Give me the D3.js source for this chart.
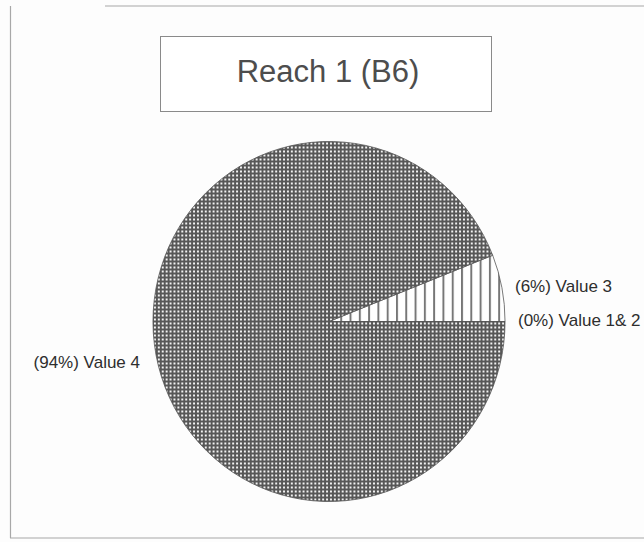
<!DOCTYPE html>
<html>
<head>
<meta charset="utf-8">
<script src="https://cdn.jsdelivr.net/npm/d3@7/dist/d3.min.js"></script>
<style>
  html, body { margin: 0; padding: 0; background: #fdfdfd; }
  svg { display: block; }
</style>
</head>
<body>
<script>
// ---- data ----
const categories = ["Value 1& 2", "Value 3", "Value 4"];
const values = [0, 6, 94];            // percent
const labels = ["(0%) Value 1& 2", "(6%) Value 3", "(94%) Value 4"];
const patterns = ["stripes", "stripes", "checker"];
const title = "Reach 1 (B6)";

// ---- layout ----
const W = 644, H = 542;
const cx = 329, cy = 321.5, R = 180, sx = 0.978;
// label anchor layout (x, baseline y, anchor)
const labelLayout = [
  { x: 518, y: 326, anchor: "start" },
  { x: 515, y: 292, anchor: "start" },
  { x: 140, y: 368, anchor: "end" }
];

const svg = d3.select("body").append("svg")
  .attr("width", W).attr("height", H);

const defs = svg.append("defs");
// dotted grid pattern (white dots on dark grey)
const chk = defs.append("pattern").attr("id", "checker")
  .attr("patternUnits", "userSpaceOnUse").attr("width", 4).attr("height", 4);
chk.append("rect").attr("width", 4).attr("height", 4).attr("fill", "#575757");
chk.append("rect").attr("x", 1).attr("y", 1).attr("width", 2).attr("height", 2).attr("fill", "#f2f2f2");
// vertical stripes
const str = defs.append("pattern").attr("id", "stripes")
  .attr("patternUnits", "userSpaceOnUse").attr("width", 9.5).attr("height", 9).attr("x", 2);
str.append("rect").attr("width", 9.5).attr("height", 9).attr("fill", "#ffffff");
str.append("rect").attr("x", 0).attr("width", 2).attr("height", 9).attr("fill", "#777");

// frame lines
const frame = svg.append("g").attr("stroke", "#a8a8a8").attr("stroke-width", 1.2).attr("fill", "none");
frame.append("line").attr("x1", 105).attr("y1", 6).attr("x2", W).attr("y2", 6);
frame.append("line").attr("x1", 10.5).attr("y1", 6).attr("x2", 10.5).attr("y2", 538);
frame.append("line").attr("x1", 10).attr("y1", 538).attr("x2", W).attr("y2", 538);

// title box
svg.append("rect").attr("x", 160.5).attr("y", 36.5).attr("width", 331).attr("height", 75)
  .attr("fill", "#ffffff").attr("stroke", "#8a8a8a").attr("stroke-width", 1);
svg.append("text").attr("x", 328).attr("y", 82)
  .attr("text-anchor", "middle")
  .attr("font-family", "Liberation Sans, Arial, sans-serif")
  .attr("font-size", 31).attr("fill", "#4d4d4d")
  .text(title);

// pie
const pie = d3.pie().sort(null).value(d => d)
  .startAngle(Math.PI / 2).endAngle(Math.PI / 2 - 2 * Math.PI);
const arcs = pie(values);
const arc = d3.arc().innerRadius(0).outerRadius(R);

const g = svg.append("g").attr("transform", `translate(${cx},${cy}) scale(${sx},1)`);
g.selectAll("path").data(arcs).join("path")
  .attr("d", arc)
  .attr("fill", (d, i) => `url(#${patterns[i]})`)
  .attr("stroke", "#555").attr("stroke-width", 0.8);

// labels
svg.append("g").selectAll("text").data(labels).join("text")
  .attr("x", (d, i) => labelLayout[i].x)
  .attr("y", (d, i) => labelLayout[i].y)
  .attr("text-anchor", (d, i) => labelLayout[i].anchor)
  .attr("font-family", "Liberation Sans, Arial, sans-serif")
  .attr("font-size", 17).attr("fill", "#2e2e2e")
  .text(d => d);
</script>
</body>
</html>
